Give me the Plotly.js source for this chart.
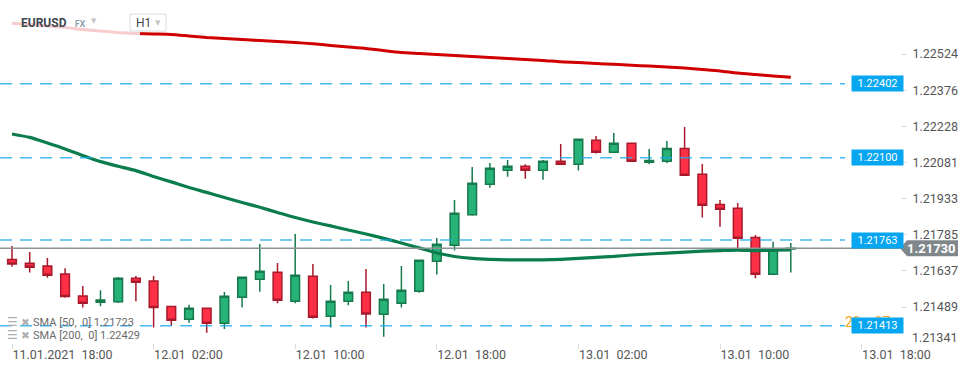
<!DOCTYPE html>
<html><head><meta charset="utf-8">
<script src="https://cdn.plot.ly/plotly-3.0.1.min.js"></script>
<style>html,body{margin:0;padding:0;background:#fff}#chart{width:970px;height:368px}</style>
</head><body><div id="chart"></div>
<script>
// Hourly candles starting 11.01.2021 18:00 (index = hours since start)
const openP  = [1.21684,1.21668,1.21657,1.21624,1.21534,1.21509,1.21511,1.21607,1.21596,1.21491,1.21439,1.21484,1.21423,1.21529,1.21603,1.21631,1.21513,1.21615,1.21451,1.21513,1.21550,1.21460,1.21505,1.21554,1.21676,1.21742,1.21867,1.21991,1.22049,1.22065,1.22049,1.22085,1.22073,1.22171,1.22122,1.22159,1.22081,1.22085,1.22138,1.22032,1.21909,1.21893,1.21774,1.21623,1.21726];
const highP  = [1.21739,1.21714,1.21690,1.21648,1.21575,1.21558,1.21612,1.21616,1.21616,1.21492,1.21498,1.21484,1.21551,1.21611,1.21747,1.21669,1.21788,1.21665,1.21579,1.21596,1.21645,1.21583,1.21657,1.21680,1.21772,1.21927,1.22062,1.22078,1.22091,1.22073,1.22091,1.22156,1.22175,1.22189,1.22201,1.22159,1.22136,1.22168,1.22226,1.22074,1.21927,1.21915,1.21784,1.21756,1.21751];
const lowP   = [1.21654,1.21630,1.21609,1.21527,1.21487,1.21492,1.21506,1.21513,1.21405,1.21413,1.21425,1.21384,1.21399,1.21487,1.21552,1.21505,1.21505,1.21442,1.21405,1.21496,1.21405,1.21368,1.21487,1.21548,1.21622,1.21720,1.21863,1.21977,1.22022,1.22014,1.22010,1.22073,1.22048,1.22117,1.22122,1.22085,1.22073,1.22077,1.22028,1.21855,1.21818,1.21723,1.21607,1.21623,1.21630];
const closeP = [1.21665,1.21652,1.21619,1.21532,1.21505,1.21518,1.21607,1.21590,1.21487,1.21435,1.21484,1.21423,1.21533,1.21611,1.21635,1.21517,1.21619,1.21447,1.21513,1.21550,1.21461,1.21521,1.21558,1.21680,1.21746,1.21873,1.21995,1.22057,1.22065,1.22049,1.22085,1.22073,1.22175,1.22122,1.22159,1.22085,1.22089,1.22138,1.22028,1.21905,1.21889,1.21770,1.21623,1.21723,1.21730];
const sma50  = [1.22197,1.22183,1.22160,1.22136,1.22109,1.22084,1.22065,1.22047,1.22023,1.22001,1.21978,1.21958,1.21937,1.21917,1.21897,1.21876,1.21855,1.21837,1.21821,1.21804,1.21788,1.21770,1.21751,1.21731,1.21710,1.21696,1.21688,1.21684,1.21682,1.21682,1.21682,1.21684,1.21688,1.21692,1.21696,1.21702,1.21706,1.21710,1.21714,1.21718,1.21720,1.21722,1.21720,1.21722,1.21723];
const sma200 = [1.22650,1.22645,1.22639,1.22633,1.22624,1.22618,1.22612,1.22608,1.22606,1.22604,1.22598,1.22592,1.22588,1.22583,1.22579,1.22575,1.22571,1.22566,1.22559,1.22553,1.22547,1.22538,1.22530,1.22526,1.22522,1.22518,1.22514,1.22510,1.22506,1.22502,1.22498,1.22492,1.22489,1.22485,1.22482,1.22478,1.22475,1.22471,1.22467,1.22461,1.22455,1.22446,1.22440,1.22434,1.22429];
const levels = [1.22402, 1.22100, 1.21763, 1.21413];
const lastPrice = 1.21730;
const yTickVals = [1.22524,1.22376,1.22228,1.22081,1.21933,1.21785,1.21637,1.21489];
const yTickText = ['1.22524','1.22376','1.22228','1.22081','1.21933','1.21785','1.21637','1.21489'];
const xTickVals = [0, 8, 16, 24, 32, 40, 48];
const xTickText = ['11.01.2021\u00a0\u00a018:00','12.01\u00a0\u00a002:00','12.01\u00a0\u00a010:00','12.01\u00a0\u00a018:00','13.01\u00a0\u00a002:00','13.01\u00a0\u00a010:00','13.01\u00a0\u00a018:00'];
const hours = openP.map((_, i) => i);

const PW = 900, PH = 343;
const px = v => v / PW;
const py = v => 1 - v / PH;

const traces = [
  {type:'candlestick', x:hours, open:openP, high:highP, low:lowP, close:closeP,
   increasing:{line:{color:'#177a4d', width:1.5}, fillcolor:'#27b277'},
   decreasing:{line:{color:'#a8192b', width:1.5}, fillcolor:'#ff2f46'},
   hoverinfo:'skip', showlegend:false},
  {type:'scatter', mode:'lines', x:hours, y:sma200, line:{color:'#d10000', width:3, shape:'spline', smoothing:0.6}, hoverinfo:'skip', showlegend:false},
  {type:'scatter', mode:'lines', x:hours, y:sma50, line:{color:'#0b7d4c', width:3.2, shape:'spline', smoothing:0.6}, hoverinfo:'skip', showlegend:false}
];

const shapes = [];
levels.forEach(l => shapes.push({type:'line', xref:'paper', yref:'y', x0:0, x1:px(845), y0:l, y1:l,
  line:{color:'rgba(20,170,240,0.8)', width:1.5, dash:'12px,8px'}, layer:'above'}));
shapes.push({type:'line', xref:'paper', yref:'y', x0:0, x1:1, y0:lastPrice, y1:lastPrice,
  line:{color:'#8b9396', width:1.5}, layer:'above'});
// faded header overlay
shapes.push({type:'rect', xref:'paper', yref:'paper', x0:0, x1:px(140), y0:py(38), y1:1,
  fillcolor:'rgba(255,255,255,0.8)', line:{width:0}, layer:'above'});
// H1 box
shapes.push({type:'rect', xref:'paper', yref:'paper', x0:px(130), x1:px(166), y0:py(31), y1:py(14),
  fillcolor:'#ffffff', line:{color:'#dcdcdc', width:1}, layer:'above'});
// current price arrow label
const h = 8 / 24450;
shapes.push({type:'path', xref:'paper', yref:'y',
  path:`M ${px(900)},${lastPrice} L ${px(907)},${lastPrice+h} L ${px(958)},${lastPrice+h} L ${px(958)},${lastPrice-h} L ${px(907)},${lastPrice-h} Z`,
  fillcolor:'#7f878b', line:{width:0}, layer:'above'});

const F = 'Roboto, "Noto Sans", sans-serif';
const ann = [];
ann.push({xref:'paper', yref:'paper', x:px(19), y:py(23), xanchor:'left', yanchor:'middle', showarrow:false,
  text:'<b>EURUSD</b>', font:{family:F, size:12, color:'#3d4750'}});
ann.push({xref:'paper', yref:'paper', x:px(73), y:py(24), xanchor:'left', yanchor:'middle', showarrow:false,
  text:'<b>FX</b>', font:{family:F, size:8.5, color:'#8f9ea8'}});
ann.push({xref:'paper', yref:'paper', x:px(89), y:py(21), xanchor:'left', yanchor:'middle', showarrow:false,
  text:'▼', font:{family:'DejaVu Sans', size:7, color:'#c4c4c4'}});
ann.push({xref:'paper', yref:'paper', x:px(134), y:py(23), xanchor:'left', yanchor:'middle', showarrow:false,
  text:'H1', font:{family:F, size:12, color:'#444'}});
ann.push({xref:'paper', yref:'paper', x:px(153), y:py(23), xanchor:'left', yanchor:'middle', showarrow:false,
  text:'▼', font:{family:'DejaVu Sans', size:7, color:'#c4c4c4'}});
// countdown (partly hidden behind the level label, as in the source)
ann.push({xref:'paper', yref:'paper', x:px(843), y:py(322), xanchor:'left', yanchor:'middle', showarrow:false,
  text:'20\u00a0:\u00a0\u00a007', font:{family:F, size:14, color:'#f5a31a'}});
// level labels
levels.forEach(l => ann.push({xref:'paper', yref:'y', x:px(877), y:l, xanchor:'center', yanchor:'middle', showarrow:false,
  text:l.toFixed(5), width:50, height:14, bgcolor:'#07a6f0', borderpad:0.5, font:{family:F, size:11, color:'#ffffff'}}));
// last price
ann.push({xref:'paper', yref:'y', x:px(958), y:lastPrice, xanchor:'right', yanchor:'middle', showarrow:false,
  text:'<b>' + lastPrice.toFixed(5) + '</b>', font:{family:F, size:13, color:'#ffffff'}});
// bottom tick label (pushed up at the bottom edge)
ann.push({xref:'paper', yref:'paper', x:px(910), y:py(337), xanchor:'left', yanchor:'middle', showarrow:false,
  text:'1.21341', font:{family:F, size:12.5, color:'#555'}});
// SMA legend
const legendRows = [['SMA [50,\u00a0 0] ' + sma50[sma50.length-1].toFixed(5), 322], ['SMA [200,\u00a0 0] ' + sma200[sma200.length-1].toFixed(5), 335]];
legendRows.forEach(([t, y]) => {
  ann.push({xref:'paper', yref:'paper', x:px(5), y:py(y), xanchor:'left', yanchor:'middle', showarrow:false,
    text:'☰', font:{family:'DejaVu Sans', size:12, color:'#b0b0b0'}});
  ann.push({xref:'paper', yref:'paper', x:px(19), y:py(y), xanchor:'left', yanchor:'middle', showarrow:false,
    text:'✖', font:{family:'DejaVu Sans', size:10.5, color:'#b0b0b0'}});
  ann.push({xref:'paper', yref:'paper', x:px(31), y:py(y), xanchor:'left', yanchor:'middle', showarrow:false,
    text:t, font:{family:F, size:11, color:'#6b6b6b'}});
});

const layout = {
  width:970, height:368, margin:{l:0, r:70, t:0, b:25},
  paper_bgcolor:'#ffffff', plot_bgcolor:'#ffffff',
  xaxis:{range:[-12/17.7, (PW-12)/17.7], tickmode:'array', tickvals:xTickVals, ticktext:xTickText,
    showgrid:false, zeroline:false, showline:false, ticks:'outside', ticklen:5, tickcolor:'#dddddd',
    ticklabelposition:'outside right', tickfont:{family:F, size:12.5, color:'#555'}, rangeslider:{visible:false}, fixedrange:true},
  yaxis:{side:'right', range:[1.21342, 1.22745], tickmode:'array', tickvals:yTickVals, ticktext:yTickText,
    showgrid:false, zeroline:false, showline:false, ticks:'outside', ticklen:6, tickcolor:'#dddddd',
    ticklabelstandoff:3, tickfont:{family:F, size:12.5, color:'#555'}, fixedrange:true},
  shapes:shapes, annotations:ann, showlegend:false, boxgap:0.3
};
Plotly.newPlot('chart', traces, layout, {staticPlot:true, displayModeBar:false});
</script></body></html>
